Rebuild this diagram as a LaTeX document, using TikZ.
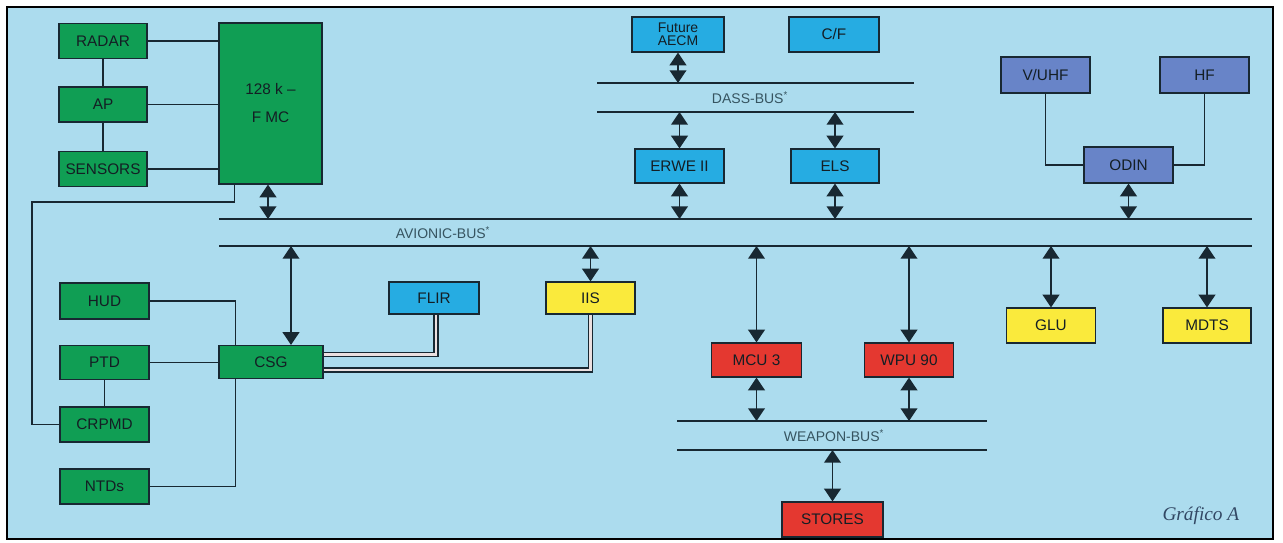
\documentclass[tikz,border=0pt]{standalone}
\usepackage{xcolor}
\usepackage{fontspec}
\setmainfont{Liberation Sans}
\newfontfamily\captionfont{Liberation Serif}
\usepackage{tikz}
\usetikzlibrary{arrows.meta}

\definecolor{panelblue}{RGB}{172,220,238}
\definecolor{unitgreen}{RGB}{16,158,84}
\definecolor{unitcyan}{RGB}{38,172,226}
\definecolor{unitslate}{RGB}{104,132,200}
\definecolor{unityellow}{RGB}{250,234,60}
\definecolor{unitred}{RGB}{228,56,48}
\definecolor{inkline}{RGB}{24,40,50}
\definecolor{unittext}{RGB}{20,30,36}
\definecolor{busgrey}{RGB}{54,84,96}
\definecolor{cablegap}{RGB}{236,224,224}
\definecolor{captiongrey}{RGB}{50,72,100}

\tikzset{
  box/.style={draw=inkline, line width=0.9pt, inner sep=0pt, text=unittext,
    font=\fontsize{11.5}{13}\selectfont},
  boxsize/.style 2 args={minimum width=#1*0.75pt, minimum height=#2*0.75pt},
  greenbox/.style={box, fill=unitgreen, boxsize={88}{35}},
  cyanbox/.style={box, fill=unitcyan, boxsize={89}{34}},
  slatebox/.style={box, fill=unitslate, boxsize={89}{36}},
  yellowbox/.style={box, fill=unityellow, boxsize={89}{34}},
  redbox/.style={box, fill=unitred, boxsize={89}{34}},
}

\begin{document}
  \begin{tikzpicture}[x=0.75pt, y=-0.75pt,
      >={Triangle[width=12.5pt,length=9.5pt]},
      link/.style={<->, draw=inkline, line width=1.2pt},
      plain/.style={draw=inkline, line width=1.2pt},
      bus/.style={draw=inkline, line width=1.4pt},
      buslabel/.style={text=busgrey, font=\fontsize{10.5}{12}\selectfont},
      cable/.style={draw=inkline, line width=1.1pt, double=cablegap, double distance=2.2pt}]
    \useasboundingbox (0,0) rectangle (1283,543);
    \fill[white] (0,0) rectangle (1283,543);
    \draw[fill=panelblue, line width=1.6pt] (7,7) rectangle (1273,539);

    \node[greenbox] (radar) at (103,41) {RADAR};
    \node[greenbox] (ap) at (103,104.5) {AP};
    \node[greenbox] (sensors) at (103,169) {SENSORS};
    \node[greenbox, boxsize={103}{161}, align=center] (fmc) at (270.5,103.5) {128 k --\\[8pt]F MC};

    \node[greenbox, boxsize={89}{36}] (hud) at (104.5,301) {HUD};
    \node[greenbox, boxsize={89}{34}] (ptd) at (104.5,362.5) {PTD};
    \node[greenbox, boxsize={89}{35}] (crpmd) at (104.5,424.5) {CRPMD};
    \node[greenbox, boxsize={89}{35}] (ntds) at (104.5,486.5) {NTDs};
    \node[greenbox, boxsize={104}{33}] (csg) at (271,362) {CSG};

    \node[cyanbox, boxsize={90}{32}] (flir) at (434,298) {FLIR};
    \node[yellowbox, boxsize={89}{32}] (iis) at (590.5,298) {IIS};

    \node[cyanbox, boxsize={92}{35}, align=center, font=\fontsize{10.5}{10}\selectfont] (aecm) at (678,34.5) {Future\\AECM};
    \node[cyanbox, boxsize={90}{35}] (cf) at (834,34.5) {C/F};
    \node[cyanbox] (erwe) at (679.5,166) {ERWE II};
    \node[cyanbox, boxsize={88}{34}] (els) at (835,166) {ELS};

    \node[slatebox] (vuhf) at (1045.5,75) {V/UHF};
    \node[slatebox] (hf) at (1204.5,75) {HF};
    \node[slatebox] (odin) at (1128.5,165) {ODIN};

    \node[redbox, boxsize={90}{34}] (mcu) at (756.5,360) {MCU 3};
    \node[redbox] (wpu) at (909,360) {WPU 90};
    \node[yellowbox, boxsize={89}{35}] (glu) at (1051,325.5) {GLU};
    \node[yellowbox, boxsize={88}{35}] (mdts) at (1207,325.5) {MDTS};
    \node[redbox, boxsize={101}{35}] (stores) at (832.5,519.5) {STORES};

    \coordinate (avTL) at (219,219);
    \coordinate (avTR) at (1252,219);
    \coordinate (avBL) at (219,246);
    \coordinate (avBR) at (1252,246);
    \coordinate (dassTL) at (597,83);
    \coordinate (dassTR) at (914,83);
    \coordinate (dassBL) at (597,112);
    \coordinate (dassBR) at (914,112);
    \coordinate (wpTL) at (677,421);
    \coordinate (wpTR) at (987,421);
    \coordinate (wpBL) at (677,450);
    \coordinate (wpBR) at (987,450);

    \draw[bus] (avTL) -- (avTR);
    \draw[bus] (avBL) -- (avBR);
    \draw[bus] (dassTL) -- (dassTR);
    \draw[bus] (dassBL) -- (dassBR);
    \draw[bus] (wpTL) -- (wpTR);
    \draw[bus] (wpBL) -- (wpBR);
    \node[buslabel] (avlabel) at (443,233) {AVIONIC-BUS\textsuperscript{*}};
    \node[buslabel] (dasslabel) at (750,97.5) {DASS-BUS\textsuperscript{*}};
    \node[buslabel] (wplabel) at (834,435.5) {WEAPON-BUS\textsuperscript{*}};

    \draw[plain] (radar) -- (radar -| fmc.west);
    \draw[plain] (ap) -- (ap -| fmc.west);
    \draw[plain] (sensors) -- (sensors -| fmc.west);
    \draw[plain] (radar) -- (ap);
    \draw[plain] (ap) -- (sensors);
    \coordinate (fmcbend) at (32,202);
    \draw[plain] ([xshift=12pt]fmc.south west) |- (fmcbend) |- (crpmd.west);

    \draw[plain] (hud) -| ([xshift=12.75pt]csg.north west);
    \draw[plain] (ptd) -- (ptd -| csg.west);
    \draw[plain] (ptd) -- (crpmd);
    \draw[plain] (ntds) -| ([xshift=12.75pt]csg.south west);
    \draw[cable] ([yshift=5.6pt]csg.east) -| ([xshift=1.5pt]flir.south);
    \draw[cable] ([yshift=-6pt]csg.east) -| (iis.south);

    \draw[plain] (vuhf) |- (odin);
    \draw[plain] (hf) |- (odin);

    \coordinate (fmctap) at (268,219);
    \coordinate (csgtap) at (291,246);
    \draw[link] (fmc.south -| fmctap) -- (fmctap);
    \draw[link] (csgtap) -- (csgtap |- csg.north);
    \draw[link] (aecm) -- (aecm |- dassTL);
    \draw[link] (erwe |- dassBL) -- (erwe);
    \draw[link] (els |- dassBL) -- (els);
    \draw[link] (erwe) -- (erwe |- avTL);
    \draw[link] (els) -- (els |- avTL);
    \draw[link] (odin) -- (odin |- avTL);
    \draw[link] (iis |- avBL) -- (iis);
    \draw[link] (mcu |- avBL) -- (mcu);
    \draw[link] (wpu |- avBL) -- (wpu);
    \draw[link] (glu |- avBL) -- (glu);
    \draw[link] (mdts |- avBL) -- (mdts);
    \draw[link] (mcu) -- (mcu |- wpTL);
    \draw[link] (wpu) -- (wpu |- wpTL);
    \draw[link] (stores |- wpBL) -- (stores);

    \node[font=\captionfont\itshape\fontsize{14.5}{16}\selectfont, text=captiongrey, anchor=base east] (caption) at (1244,520) {Gráfico A};
  \end{tikzpicture}
\end{document}
